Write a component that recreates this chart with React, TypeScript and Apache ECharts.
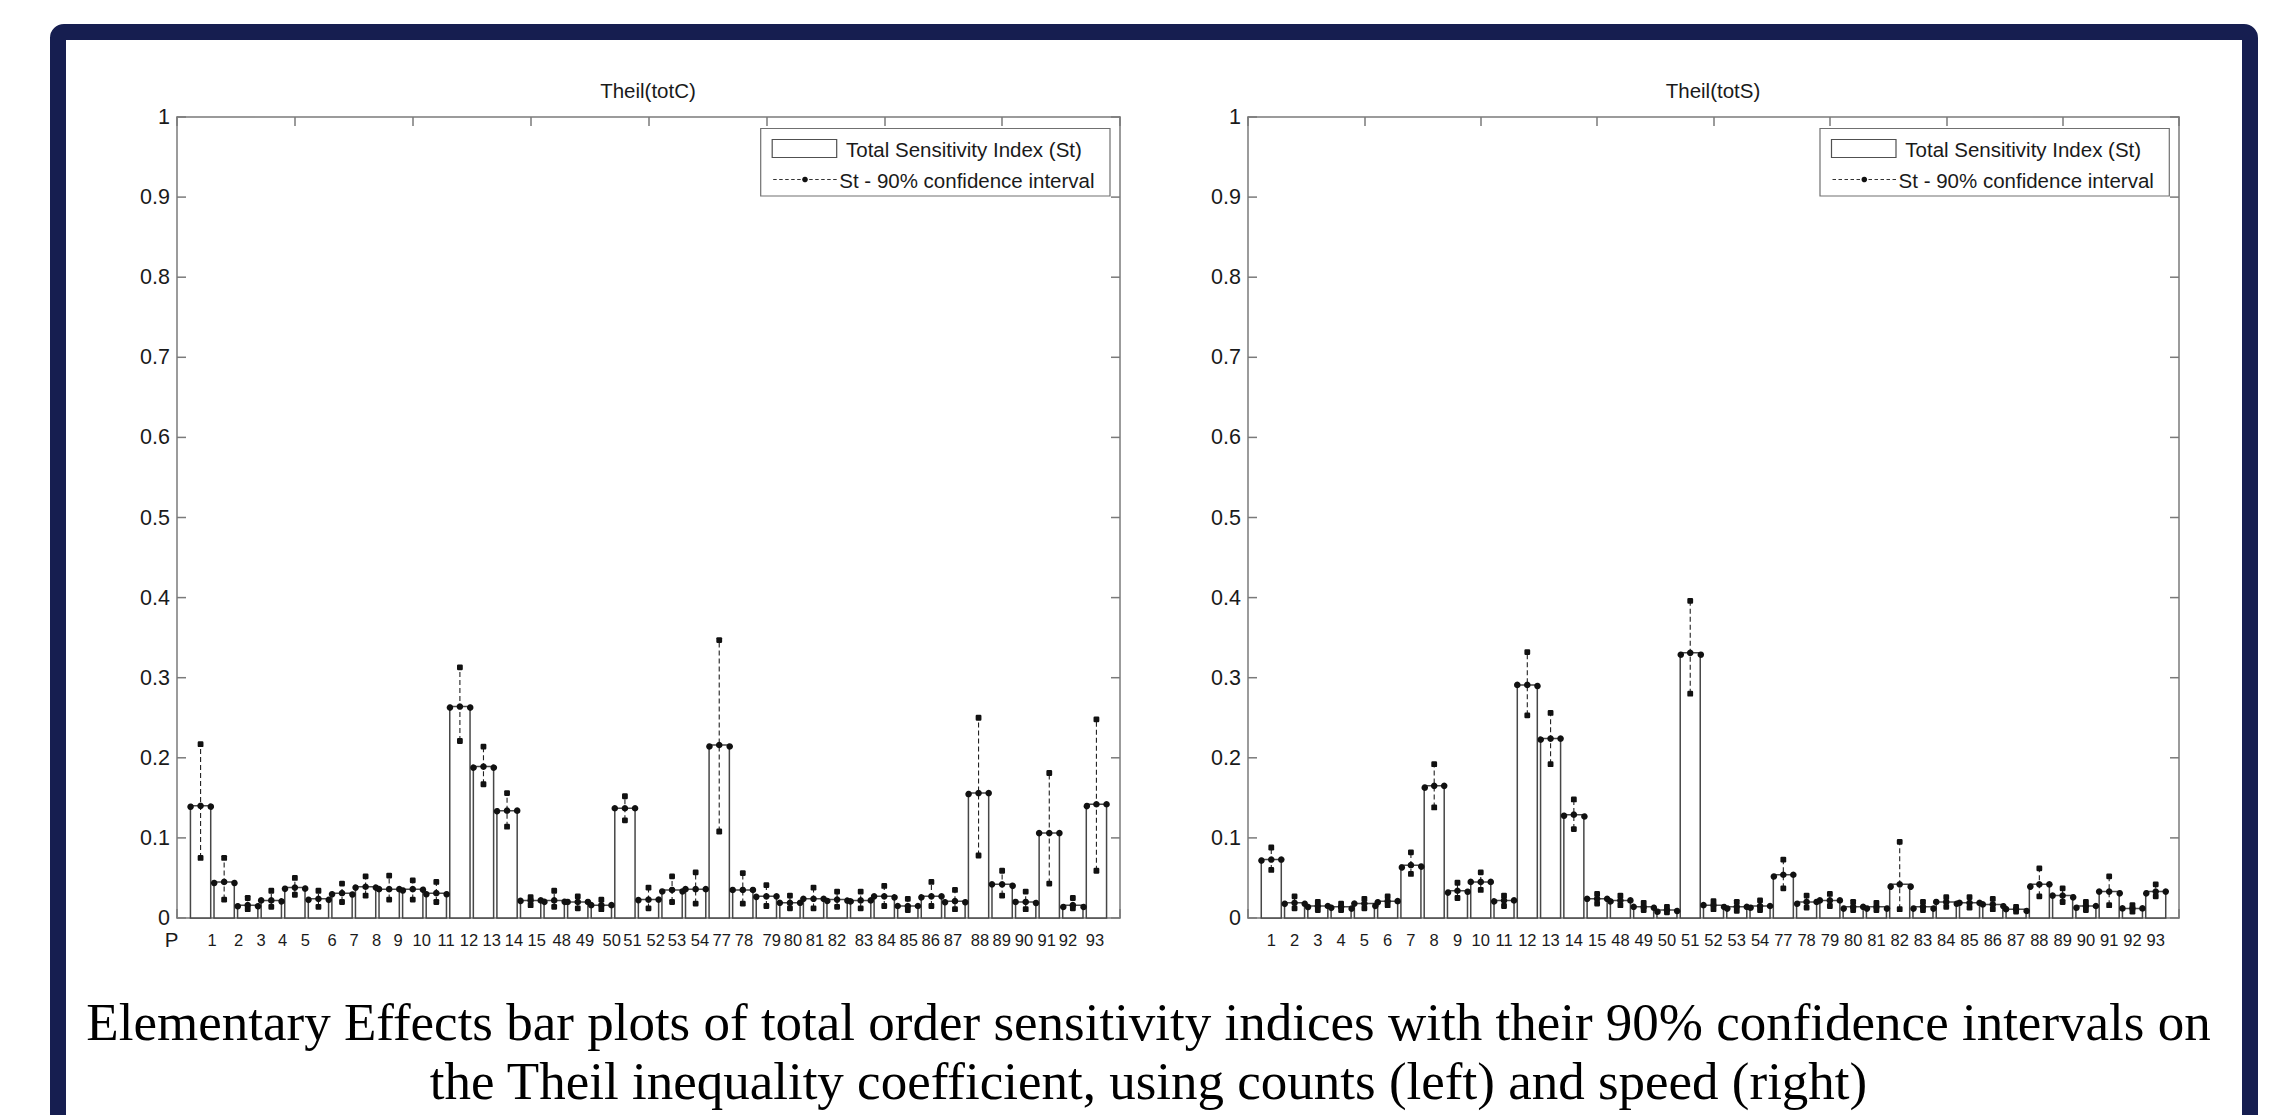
import React, { useEffect, useRef } from "react";
import * as echarts from "echarts";

// ---------- data ----------
const categories = [
  "1", "2", "3", "4", "5", "6", "7", "8", "9", "10", "11", "12", "13", "14", "15",
  "48", "49", "50", "51", "52", "53", "54",
  "77", "78", "79", "80", "81", "82", "83", "84", "85", "86", "87", "88", "89", "90", "91", "92", "93",
];

// Theil(totC) – total sensitivity index and 90% CI
const countsSt = [
  0.140, 0.045, 0.016, 0.022, 0.038, 0.024, 0.031, 0.039, 0.036, 0.036, 0.031, 0.264, 0.189, 0.134, 0.022,
  0.022, 0.020, 0.016, 0.137, 0.023, 0.035, 0.036,
  0.216, 0.035, 0.027, 0.019, 0.024, 0.023, 0.022, 0.027, 0.015, 0.027, 0.021, 0.156, 0.042, 0.020, 0.106, 0.016, 0.142,
];
const countsLow = [
  0.075, 0.023, 0.011, 0.014, 0.029, 0.014, 0.020, 0.028, 0.023, 0.023, 0.020, 0.221, 0.167, 0.114, 0.016,
  0.014, 0.012, 0.011, 0.122, 0.012, 0.020, 0.018,
  0.108, 0.018, 0.015, 0.012, 0.012, 0.014, 0.012, 0.015, 0.010, 0.015, 0.011, 0.078, 0.028, 0.011, 0.043, 0.012, 0.059,
];
const countsHigh = [
  0.217, 0.075, 0.025, 0.034, 0.050, 0.034, 0.043, 0.052, 0.053, 0.047, 0.045, 0.313, 0.214, 0.156, 0.026,
  0.034, 0.027, 0.023, 0.152, 0.038, 0.052, 0.057,
  0.347, 0.056, 0.041, 0.028, 0.038, 0.033, 0.033, 0.040, 0.024, 0.045, 0.035, 0.250, 0.059, 0.033, 0.181, 0.025, 0.248,
];

// Theil(totS)
const speedSt = [
  0.073, 0.019, 0.015, 0.014, 0.018, 0.021, 0.066, 0.165, 0.034, 0.045, 0.022, 0.291, 0.224, 0.129, 0.024,
  0.022, 0.014, 0.010, 0.331, 0.016, 0.014, 0.015,
  0.054, 0.020, 0.022, 0.014, 0.014, 0.042, 0.014, 0.020, 0.019, 0.017, 0.011, 0.042, 0.028, 0.015, 0.033, 0.012, 0.033,
];
const speedLow = [
  0.060, 0.012, 0.010, 0.010, 0.012, 0.016, 0.055, 0.138, 0.025, 0.035, 0.015, 0.253, 0.192, 0.111, 0.018,
  0.016, 0.010, 0.007, 0.280, 0.011, 0.009, 0.010,
  0.037, 0.013, 0.015, 0.010, 0.010, 0.011, 0.010, 0.014, 0.013, 0.011, 0.008, 0.027, 0.020, 0.010, 0.016, 0.008, 0.027,
];
const speedHigh = [
  0.088, 0.027, 0.020, 0.018, 0.024, 0.027, 0.082, 0.192, 0.044, 0.057, 0.028, 0.332, 0.256, 0.148, 0.030,
  0.028, 0.019, 0.014, 0.396, 0.021, 0.020, 0.022,
  0.073, 0.028, 0.030, 0.020, 0.019, 0.095, 0.020, 0.026, 0.026, 0.024, 0.014, 0.062, 0.037, 0.020, 0.052, 0.016, 0.042,
];

// label positions (x-axis units) of the hand-placed tick texts in the left panel
const countsLabelPos = [
  1.485, 2.609, 3.563, 4.484, 5.442, 6.575, 7.508, 8.462, 9.374, 10.38, 11.41, 12.386, 13.349, 14.295, 15.258,
  16.318, 17.306, 18.439, 19.321, 20.305, 21.209, 22.185,
  23.105, 24.051, 25.226, 26.129, 27.063, 27.996, 29.141, 30.104, 31.037, 31.97, 32.916, 34.062, 34.982, 35.928, 36.891, 37.794, 38.94,
];
const speedLabelPos = categories.map((_, i) => i + 1);

// y-axis tick values (0 … 1 by 0.1)
const yTickValues = [0, 0.1, 0.2, 0.3, 0.4, 0.5, 0.6, 0.7, 0.8, 0.9, 1];

const titles = ["Theil(totC)", "Theil(totS)"];
const legendTexts = ["Total Sensitivity Index (St)", "St - 90% confidence interval"];
const captionLines = [
  "Elementary Effects bar plots of total order sensitivity indices with their 90% confidence intervals on",
  "the Theil inequality coefficient, using counts (left) and speed (right)",
];

// ---------- styles ----------
const SANS = "Liberation Sans, Arial, Helvetica, sans-serif";
const SERIF = "Liberation Serif, Times New Roman, serif";
const AXIS = "#7a7a7a";
const BAR_EDGE = "#474747";
const DOT = "#111111";
const TEXT = "#1a1a1a";
const NAVY = "#161e50";
const HW = 0.43;
const TICK_PX = 9;
const X_MAX = 40;

function renderBar(_params: any, api: any) {
  const x = api.value(0);
  const v = api.value(1);
  const p1 = api.coord([x - HW, v]);
  const p2 = api.coord([x + HW, 0]);
  return {
    type: "rect",
    shape: { x: p1[0], y: p1[1], width: p2[0] - p1[0], height: p2[1] - p1[1] },
    style: { fill: "#ffffff", stroke: BAR_EDGE, lineWidth: 1.5 },
  };
}

function renderCI(_params: any, api: any) {
  const x = api.value(0);
  const v = api.value(1);
  const lo = api.value(2);
  const hi = api.value(3);
  const l = api.coord([x - HW, v]);
  const c = api.coord([x, v]);
  const r = api.coord([x + HW, v]);
  const pl = api.coord([x, lo]);
  const ph = api.coord([x, hi]);
  const s = 5.8;
  const dot = (p: number[]) => ({ type: "circle", shape: { cx: p[0], cy: p[1], r: 3.3 }, style: { fill: DOT } });
  const sq = (p: number[]) => ({
    type: "rect",
    shape: { x: p[0] - s / 2, y: p[1] - s / 2, width: s, height: s, r: 1.2 },
    style: { fill: DOT },
  });
  return {
    type: "group",
    children: [
      {
        type: "line",
        shape: { x1: pl[0], y1: pl[1], x2: ph[0], y2: ph[1] },
        style: { stroke: "#222", lineWidth: 1.1, lineDash: [5, 3] },
      },
      dot(l),
      dot(c),
      dot(r),
      sq(pl),
      sq(ph),
    ],
  };
}

// inward y ticks on both sides of the box, positioned through the axis scale
function renderYTicks(_params: any, api: any) {
  const v = api.value(1);
  const l = api.coord([0, v]);
  const r = api.coord([X_MAX, v]);
  const st = { stroke: AXIS, lineWidth: 1.5 };
  return {
    type: "group",
    children: [
      { type: "line", shape: { x1: l[0], y1: l[1], x2: l[0] + TICK_PX, y2: l[1] }, style: st },
      { type: "line", shape: { x1: r[0] - TICK_PX, y1: r[1], x2: r[0], y2: r[1] }, style: st },
    ],
  };
}

function frameAxis(gridIndex: number, position: string) {
  return {
    type: "value",
    gridIndex,
    position,
    min: 0,
    max: X_MAX,
    interval: 5,
    axisLine: { show: true, onZero: false, lineStyle: { color: AXIS, width: 1.5 } },
    axisTick: { show: true, inside: true, length: TICK_PX, lineStyle: { color: AXIS, width: 1.5 } },
    axisLabel: { show: false },
    splitLine: { show: false },
  };
}

function labelAxis(gridIndex: number, positions: number[]) {
  return {
    type: "value",
    gridIndex,
    position: "bottom",
    min: 0,
    max: X_MAX,
    axisLine: { show: false },
    axisTick: { show: false },
    splitLine: { show: false },
    axisLabel: {
      show: true,
      customValues: positions,
      margin: 13,
      fontSize: 16.5,
      color: TEXT,
      fontFamily: SANS,
      formatter: (val: number) => {
        const i = positions.findIndex((p) => Math.abs(p - val) < 1e-6);
        return i >= 0 ? categories[i] : "";
      },
    },
  };
}

function yAxis(gridIndex: number, position: string, labels: boolean) {
  return {
    type: "value",
    gridIndex,
    position,
    min: 0,
    max: 1,
    interval: 0.1,
    axisLine: { show: true, onZero: false, lineStyle: { color: AXIS, width: 1.5 } },
    axisTick: { show: false },
    axisLabel: { show: labels, fontSize: 21.5, color: TEXT, fontFamily: SANS, margin: 7 },
    splitLine: { show: false },
  };
}

function legendGroup(boxRight: number) {
  const w = 349.3;
  const left = boxRight - w;
  return [
    {
      type: "rect",
      shape: { x: left, y: 128.5, width: w, height: 67.5 },
      style: { fill: "#ffffff", stroke: "#707070", lineWidth: 1.2 },
      z: 100,
    },
    {
      type: "rect",
      shape: { x: left + 11.5, y: 139.5, width: 64.5, height: 18 },
      style: { fill: "#ffffff", stroke: "#505050", lineWidth: 1.2 },
      z: 101,
    },
    {
      type: "text",
      x: left + 85.3,
      y: 149,
      style: { text: legendTexts[0], fontSize: 20.5, fontFamily: SANS, fill: TEXT, verticalAlign: "middle", align: "left" },
      z: 101,
    },
    {
      type: "line",
      shape: { x1: left + 12.5, y1: 179.5, x2: left + 76, y2: 179.5 },
      style: { stroke: "#333", lineWidth: 1, lineDash: [3.5, 2.5] },
      z: 101,
    },
    {
      type: "circle",
      shape: { cx: left + 44.3, cy: 179.5, r: 2.8 },
      style: { fill: DOT },
      z: 102,
    },
    {
      type: "text",
      x: left + 78.6,
      y: 180.5,
      style: { text: legendTexts[1], fontSize: 20.5, fontFamily: SANS, fill: TEXT, verticalAlign: "middle", align: "left" },
      z: 101,
    },
  ];
}

function toData(st: number[], lo: number[], hi: number[]) {
  return st.map((v, i) => [i + 1, v, lo[i], hi[i]]);
}

export default function App() {
  const ref = useRef<HTMLDivElement>(null);

  useEffect(() => {
    if (!ref.current) return;
    const chart = echarts.init(ref.current, null, { renderer: "svg" });

    const countsData = toData(countsSt, countsLow, countsHigh);
    const speedData = toData(speedSt, speedLow, speedHigh);
    const tickData = yTickValues.map((v) => [X_MAX / 2, v]);

    const tickSeries = (xAxisIndex: number, yAxisIndex: number) => ({
      type: "custom",
      xAxisIndex,
      yAxisIndex,
      renderItem: renderYTicks,
      encode: { x: 0, y: 1 },
      data: tickData,
      silent: true,
      clip: false,
      z: 4,
    });

    const option: any = {
      animation: false,
      backgroundColor: "#ffffff",
      grid: [
        { left: 177, top: 117, width: 943, height: 801, outerBoundsMode: "none", containLabel: false },
        { left: 1248, top: 117, width: 931, height: 801, outerBoundsMode: "none", containLabel: false },
      ],
      xAxis: [
        frameAxis(0, "bottom"),
        frameAxis(0, "top"),
        labelAxis(0, countsLabelPos),
        frameAxis(1, "bottom"),
        frameAxis(1, "top"),
        labelAxis(1, speedLabelPos),
      ],
      yAxis: [yAxis(0, "left", true), yAxis(0, "right", false), yAxis(1, "left", true), yAxis(1, "right", false)],
      series: [
        {
          name: legendTexts[0],
          type: "custom",
          xAxisIndex: 0,
          yAxisIndex: 0,
          renderItem: renderBar,
          encode: { x: 0, y: 1 },
          data: countsData,
          z: 2,
        },
        {
          name: legendTexts[1],
          type: "custom",
          xAxisIndex: 0,
          yAxisIndex: 0,
          renderItem: renderCI,
          encode: { x: 0, y: [1, 2, 3] },
          data: countsData,
          z: 3,
        },
        {
          name: legendTexts[0],
          type: "custom",
          xAxisIndex: 3,
          yAxisIndex: 2,
          renderItem: renderBar,
          encode: { x: 0, y: 1 },
          data: speedData,
          z: 2,
        },
        {
          name: legendTexts[1],
          type: "custom",
          xAxisIndex: 3,
          yAxisIndex: 2,
          renderItem: renderCI,
          encode: { x: 0, y: [1, 2, 3] },
          data: speedData,
          z: 3,
        },
        tickSeries(0, 0),
        tickSeries(3, 2),
      ],
      graphic: [
        {
          type: "rect",
          shape: { x: 58, y: 32, width: 2192, height: 1300, r: 6 },
          style: { fill: "none", stroke: NAVY, lineWidth: 16 },
          z: 200,
        },
        {
          type: "text",
          x: 648,
          y: 90,
          style: { text: titles[0], fontSize: 20.5, fontFamily: SANS, fill: TEXT, align: "center", verticalAlign: "middle" },
        },
        {
          type: "text",
          x: 1713,
          y: 90,
          style: { text: titles[1], fontSize: 20.5, fontFamily: SANS, fill: TEXT, align: "center", verticalAlign: "middle" },
        },
        {
          type: "text",
          x: 171.5,
          y: 939,
          style: { text: "P", fontSize: 20.5, fontFamily: SANS, fill: TEXT, align: "center", verticalAlign: "middle" },
        },
        ...legendGroup(1110),
        ...legendGroup(2169.3),
        {
          type: "text",
          x: 1148.5,
          y: 1022,
          style: { text: captionLines[0], fontSize: 53, fontFamily: SERIF, fill: "#000", align: "center", verticalAlign: "middle" },
        },
        {
          type: "text",
          x: 1148.5,
          y: 1081,
          style: { text: captionLines[1], fontSize: 53, fontFamily: SERIF, fill: "#000", align: "center", verticalAlign: "middle" },
        },
      ],
    };

    chart.setOption(option);
    return () => chart.dispose();
  }, []);

  return (
    <div
      ref={ref}
      style={{ position: "absolute", left: 0, top: 0, width: 2284, height: 1115, background: "#ffffff" }}
    />
  );
}
